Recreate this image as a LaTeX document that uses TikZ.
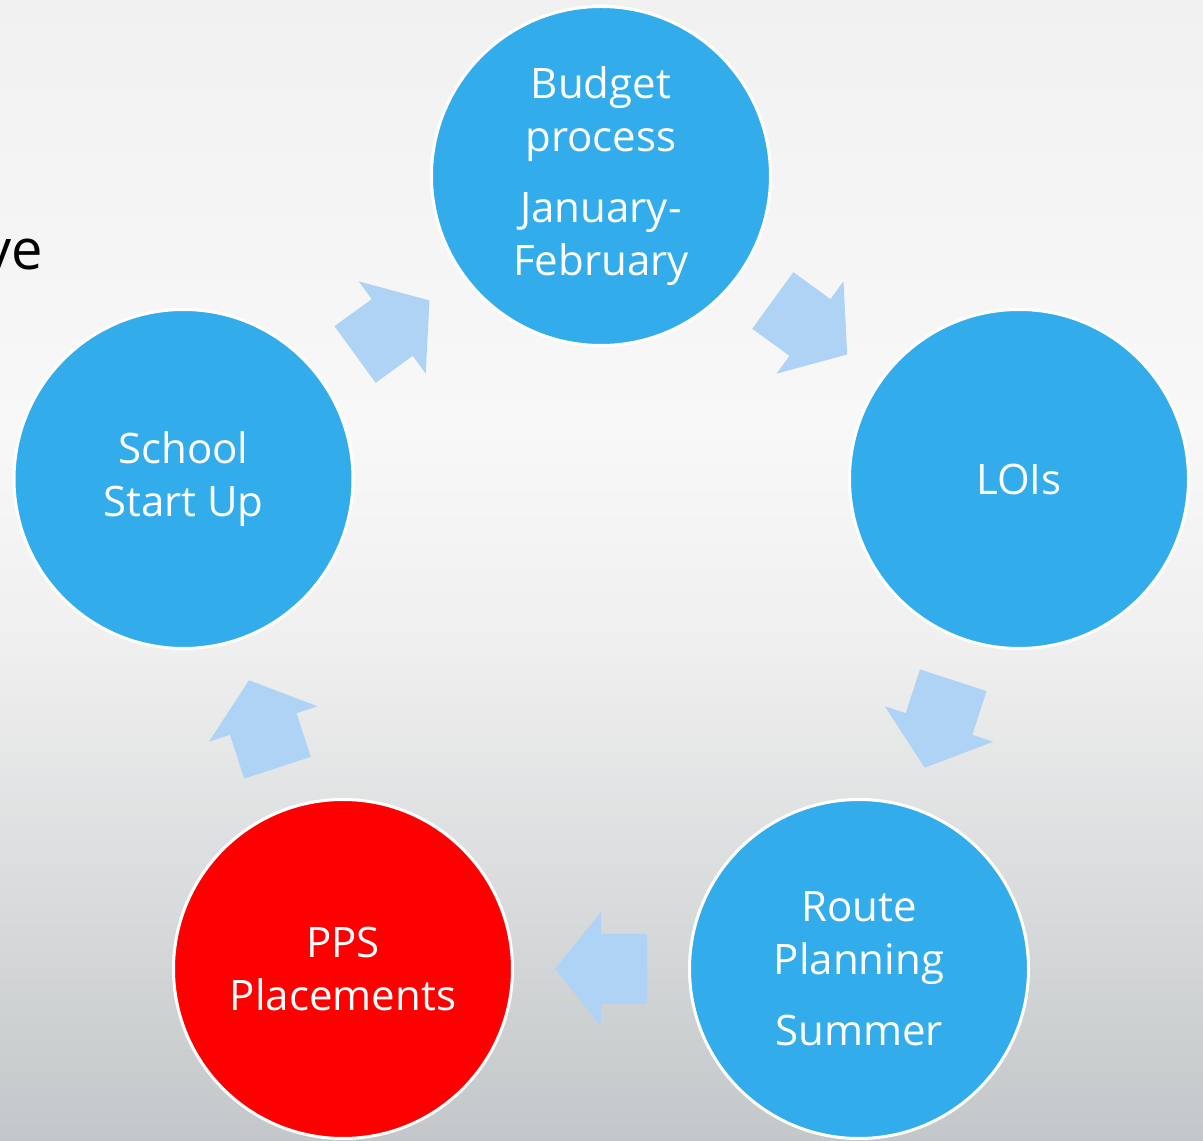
\documentclass[tikz,border=0pt]{standalone}
\usepackage{fontspec}
\setmainfont{Open Sans}
\usetikzlibrary{calc}
\definecolor{circblue}{HTML}{33ACEB}
\definecolor{circred}{HTML}{FF0000}
\definecolor{arrblue}{HTML}{AFD3F5}
\definecolor{bgA}{HTML}{F1F1F1}
\definecolor{bgB}{HTML}{F8F8F8}
\definecolor{bgC}{HTML}{EFEFEF}
\definecolor{bgD}{HTML}{C3C7C9}
\newcommand\myBlockArrow[2]{%
  \pgfmathanglebetweenpoints{\pgfpointanchor{#1}{center}}{\pgfpointanchor{#2}{center}}%
  \let\myArrAng\pgfmathresult
  \begin{scope}[shift={($(#1)!0.5!(#2)$)}, rotate=\myArrAng]
    \fill[arrowfill] (-46,-35) -- (0,-35) -- (0,-57) -- (46,0) -- (0,57) -- (0,35) -- (-46,35) -- cycle;
  \end{scope}}
\begin{document}
\begin{tikzpicture}[x=1pt,y=1pt,
  stage/.style={circle, draw=white, line width=3pt, fill=circblue,
    minimum size=339pt, inner sep=0pt, text=white,
    font=\fontsize{42}{53}\selectfont, align=center},
  arrowfill/.style={fill=arrblue}]
\useasboundingbox (0,0) rectangle (1203,1141);
\clip (0,0) rectangle (1203,1141);
\shade[top color=bgA, bottom color=bgB] (0,710) rectangle (1203,1141.5);
\shade[top color=bgB, bottom color=bgC] (0,490) rectangle (1203,711);
\shade[top color=bgC, bottom color=bgD] (0,-1) rectangle (1203,491);
\node[anchor=base east, inner sep=0pt, font=\fontsize{56}{60}\selectfont] (ve) at (43,871) {ve};
\node[stage] (bud) at (601,965) {Budget\\process\\[18pt]January-\\February};
\node[stage] (loi) at (1019,662) {LOIs};
\node[stage] (rte) at (859,172) {Route\\Planning\\[18pt]Summer};
\node[stage, fill=circred] (pps) at (343,172) {PPS\\Placements};
\node[stage] (ssu) at (183.5,662) {School\\Start Up};
\myBlockArrow{bud}{loi}
\myBlockArrow{loi}{rte}
\myBlockArrow{rte}{pps}
\myBlockArrow{pps}{ssu}
\myBlockArrow{ssu}{bud}
\end{tikzpicture}
\end{document}
